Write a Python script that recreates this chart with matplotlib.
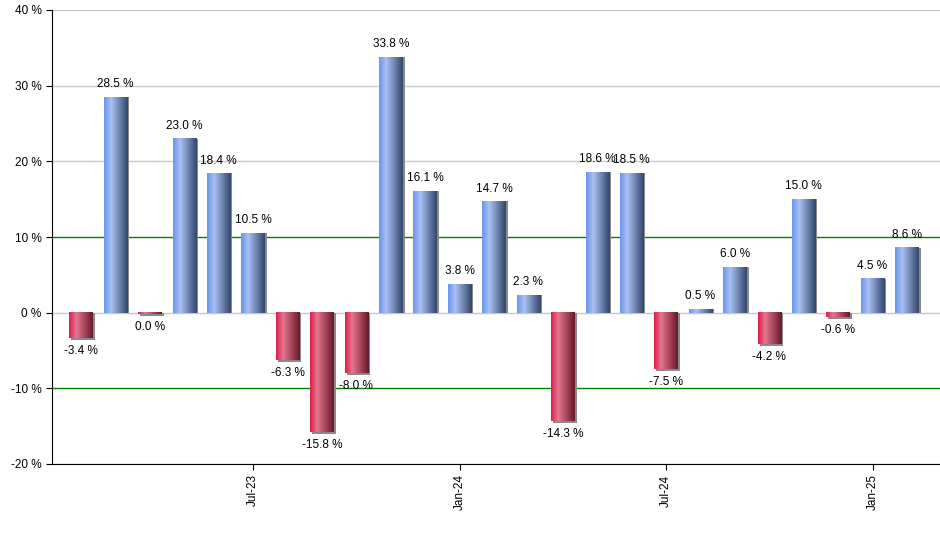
import numpy as np
import matplotlib
matplotlib.use("Agg")
import matplotlib.pyplot as plt
from matplotlib.colors import LinearSegmentedColormap
from matplotlib.patches import Rectangle

# monthly returns, Feb-23 .. Feb-25
months = ["Feb-23", "Mar-23", "Apr-23", "May-23", "Jun-23", "Jul-23", "Aug-23", "Sep-23",
          "Oct-23", "Nov-23", "Dec-23", "Jan-24", "Feb-24", "Mar-24", "Apr-24", "May-24",
          "Jun-24", "Jul-24", "Aug-24", "Sep-24", "Oct-24", "Nov-24", "Dec-24", "Jan-25", "Feb-25"]
returns = [-3.4, 28.5, -0.04, 23.0, 18.4, 10.5, -6.3, -15.8, -8.0, 33.8, 16.1, 3.8, 14.7,
           2.3, -14.3, 18.6, 18.5, -7.5, 0.5, 6.0, -4.2, 15.0, -0.6, 4.5, 8.6]
tick_months = ["Jul-23", "Jan-24", "Jul-24", "Jan-25"]
yticks = [-20, -10, 0, 10, 20, 30, 40]

plt.rcParams['font.family'] = ['Liberation Sans', 'DejaVu Sans']

blue = LinearSegmentedColormap.from_list("b", [(0, "#6b95ec"), (0.3, "#a9c1f3"), (1, "#33476b")])
red = LinearSegmentedColormap.from_list("r", [(0, "#dd1f4a"), (0.3, "#e47790"), (1, "#681828")])
grad = np.linspace(0, 1, 64).reshape(1, -1)

fig = plt.figure(figsize=(9.4, 5.5), dpi=100)
ax = fig.add_axes([52 / 940, 86 / 550, 888 / 940, 454 / 550])

x = np.arange(len(months))
w = 0.68
for xi, v in zip(x, returns):
    h = v if abs(v) > 0.15 else -0.15
    # shadow
    ax.add_patch(Rectangle((xi - w / 2 + 0.06, min(0, h) - (0.25 if h < 0 else 0)), w,
                           abs(h) + 0.25 if h < 0 else abs(h), color="#8a8a8a", zorder=2, lw=0))
    ax.imshow(grad, cmap=blue if v >= 0 else red, extent=[xi - w / 2, xi + w / 2, min(0, h), max(0, h)],
              aspect='auto', interpolation='bilinear', zorder=3)
    lab = "0.0 %" if abs(v) < 0.05 else f"{v:.1f} %"
    if v >= 0:
        ax.text(xi, v + 0.9, lab, ha='center', va='bottom', fontsize=8.5, zorder=4)
    else:
        ax.text(xi, h - 0.9, lab, ha='center', va='top', fontsize=8.5, zorder=4)

ax.set_xlim(-0.843, 24.96)
ax.set_ylim(-20, 40)

for yv in yticks:
    c = "#008000" if abs(yv) == 10 else "#c8c8c8"
    ax.axhline(yv, color=c, lw=1, zorder=1)

ax.set_yticks(yticks)
ax.set_yticklabels([f"{t} %" for t in yticks], fontsize=8.5)
ax.set_xticks([months.index(m) for m in tick_months])
ax.set_xticklabels(tick_months, rotation=90, fontsize=8.5)
ax.tick_params(axis='x', length=4, color='black')
ax.tick_params(axis='y', length=4, color='black')
ax.spines['top'].set_visible(False)
ax.spines['right'].set_visible(False)

fig.savefig("out.png", dpi=100)
